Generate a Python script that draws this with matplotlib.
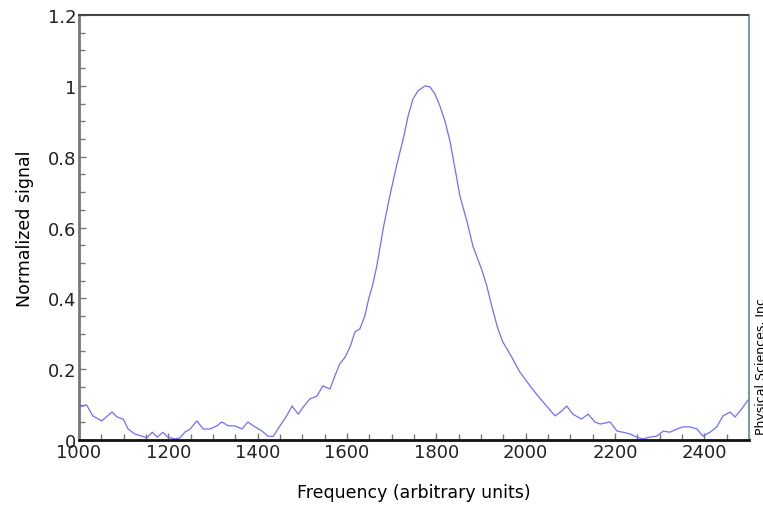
import matplotlib
matplotlib.use("Agg")
from matplotlib import pyplot as plt
from matplotlib.ticker import MultipleLocator

# spectrum
freq = [1000, 1017, 1031, 1051, 1074, 1085, 1099, 1110, 1125, 1141, 1152, 1164,
        1175, 1188, 1199, 1215, 1226, 1237, 1249, 1264, 1278, 1293, 1309, 1320,
        1334, 1349, 1365, 1378, 1394, 1410, 1423, 1435, 1450, 1465, 1477, 1491,
        1502, 1517, 1533, 1546, 1562, 1573, 1584, 1596, 1607, 1618, 1629, 1640,
        1649, 1658, 1667, 1681, 1696, 1711, 1726, 1737, 1748, 1759, 1775, 1786,
        1797, 1808, 1820, 1831, 1842, 1853, 1869, 1882, 1902, 1913, 1924, 1938,
        1949, 1969, 1987, 2010, 2028, 2047, 2066, 2081, 2092, 2106, 2125, 2140,
        2155, 2167, 2189, 2205, 2218, 2234, 2249, 2263, 2278, 2294, 2308, 2323,
        2339, 2352, 2368, 2384, 2397, 2413, 2428, 2442, 2458, 2469, 2484, 2500]
signal = [0.093, 0.099, 0.068, 0.054, 0.079, 0.065, 0.059, 0.031, 0.017, 0.011,
          0.006, 0.022, 0.008, 0.022, 0.008, 0.003, 0.006, 0.022, 0.031, 0.054,
          0.031, 0.031, 0.040, 0.051, 0.040, 0.040, 0.031, 0.051, 0.037, 0.025,
          0.011, 0.010, 0.040, 0.068, 0.096, 0.073, 0.093, 0.116, 0.124, 0.153,
          0.144, 0.181, 0.215, 0.234, 0.263, 0.305, 0.314, 0.350, 0.400, 0.440,
          0.492, 0.596, 0.689, 0.774, 0.850, 0.915, 0.963, 0.986, 1.000, 0.997,
          0.977, 0.944, 0.898, 0.842, 0.766, 0.689, 0.616, 0.548, 0.480, 0.436,
          0.379, 0.314, 0.277, 0.234, 0.192, 0.153, 0.124, 0.096, 0.068, 0.082,
          0.096, 0.073, 0.059, 0.073, 0.051, 0.045, 0.051, 0.025, 0.022, 0.017,
          0.008, 0.003, 0.008, 0.011, 0.025, 0.022, 0.031, 0.037, 0.037, 0.031,
          0.011, 0.022, 0.037, 0.068, 0.079, 0.065, 0.088, 0.116]

xticks = [1000, 1200, 1400, 1600, 1800, 2000, 2200, 2400]
yticks = [0, 0.2, 0.4, 0.6, 0.8, 1, 1.2]
ytick_labels = ['0', '0.2', '0.4', '0.6', '0.8', '1', '1.2']

fig = plt.figure(figsize=(7.63, 5.10), dpi=100)
ax = fig.add_axes([0.1035, 0.1353, 0.878, 0.8333])

ax.plot(freq, signal, color='#6f6fff', lw=0.9)

ax.set_xlim(1000, 2500)
ax.set_ylim(0, 1.2)
ax.set_xticks(xticks)
ax.set_xticklabels([str(t) for t in xticks])
ax.set_yticks(yticks)
ax.set_yticklabels(ytick_labels)
ax.xaxis.set_minor_locator(MultipleLocator(50))
ax.yaxis.set_minor_locator(MultipleLocator(0.05))

ax.tick_params(which='both', direction='in', colors='#777777',
               labelcolor='#222222', labelsize=13, pad=2)
ax.tick_params(which='major', length=5, width=1)
ax.tick_params(which='minor', length=4, width=1)

ax.spines['top'].set_linestyle((0, (1, 1)))
ax.spines['top'].set_color('#444444')
ax.spines['top'].set_linewidth(1.5)
ax.spines['right'].set_color('#7a9c9c')
ax.spines['right'].set_linewidth(1.5)
ax.spines['left'].set_color('#777777')
ax.spines['left'].set_linewidth(2)
ax.spines['bottom'].set_color('#111111')
ax.spines['bottom'].set_linewidth(2)

ax.set_xlabel('Frequency (arbitrary units)', fontsize=12.5, labelpad=16)
ax.set_ylabel('Normalized signal', fontsize=12.5, labelpad=10)

fig.text(0.9895, 0.147, 'Physical Sciences, Inc', rotation=90,
         ha='left', va='bottom', fontsize=9)

fig.savefig('out.png', dpi=100)
